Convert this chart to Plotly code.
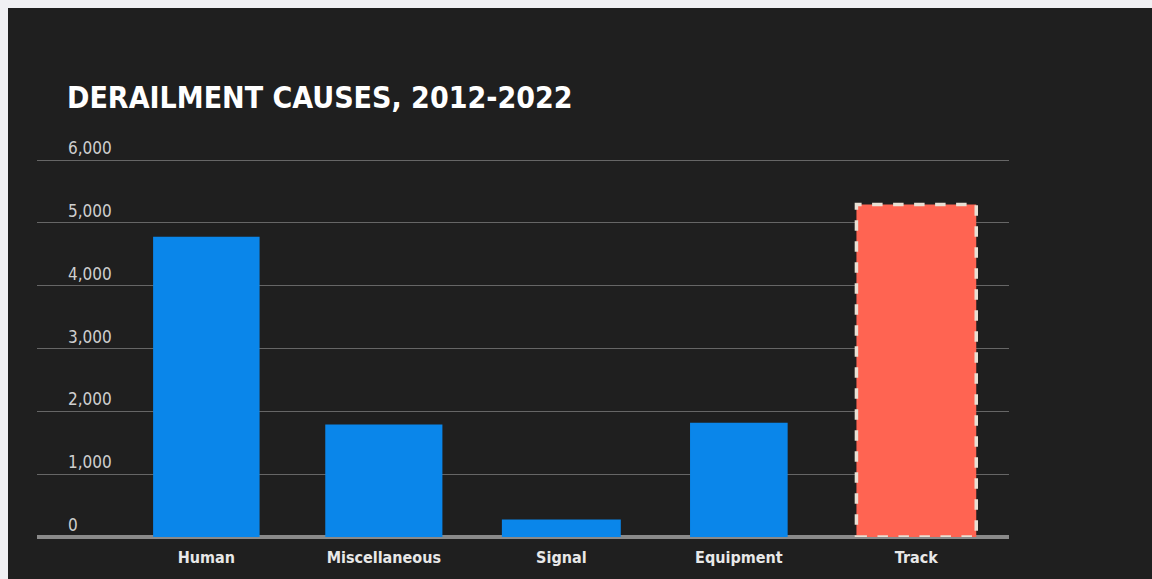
import plotly.graph_objects as go

categories = ["Human", "Miscellaneous", "Signal", "Equipment", "Track"]
derailments = [4780, 1790, 280, 1820, 5295]
highlight = ["Track"]
y_ticks = [0, 1000, 2000, 3000, 4000, 5000, 6000]
y_tick_labels = ["0", "1,000", "2,000", "3,000", "4,000", "5,000", "6,000"]
title_text = "DERAILMENT CAUSES, 2012-2022"

BG = "#1f1f1f"
BLUE = "#0a86ea"
RED = "#ff6452"
OUTLINE = "#e9e0d4"
FONT = "DejaVu Sans Condensed, Liberation Sans Narrow, Roboto Condensed, Roboto, sans-serif"
bar_widths = [0.60, 0.66, 0.67, 0.55, 0.675]

colors = [RED if c in highlight else BLUE for c in categories]

fig = go.Figure()
fig.add_trace(go.Bar(
    x=categories, y=derailments,
    marker=dict(color=colors, line=dict(width=0)),
    width=bar_widths,
    hoverinfo="x+y",
))

# dashed outline around highlighted bar(s)
for i, c in enumerate(categories):
    if c in highlight:
        w = bar_widths[i] / 2
        fig.add_shape(type="rect", xref="x", yref="y",
                      x0=i - w, x1=i + w, y0=0, y1=derailments[i],
                      line=dict(color=OUTLINE, width=3.5, dash="dash"),
                      fillcolor="rgba(0,0,0,0)", layer="above")

fig.update_layout(
    width=1144, height=571,
    margin=dict(l=29, r=143, t=128, b=42),
    paper_bgcolor=BG, plot_bgcolor=BG,
    showlegend=False,
    font=dict(family=FONT, color="#e6e6e6"),
    annotations=[dict(
        text="<b>" + title_text + "</b>", xref="paper", yref="paper",
        x=0.029, y=1.0 + (128 - 90) / 401.0, xanchor="left", yanchor="middle",
        showarrow=False,
        font=dict(family=FONT, size=30, color="#ffffff"),
    )],
)
fig.update_xaxes(
    range=[-0.954, 4.522], showgrid=False, zeroline=False, showline=False,
    ticks="", ticklabelstandoff=9,
    tickfont=dict(size=16, color="#e8e8e8", family=FONT, weight="bold"),
    fixedrange=True,
)
fig.update_yaxes(
    range=[0, 6385], tickvals=y_ticks, ticktext=y_tick_labels,
    ticklabelposition="inside top", ticklabelstandoff=28,
    showgrid=True, gridcolor="#666666", gridwidth=1,
    zeroline=True, zerolinecolor="#8a8a8a", zerolinewidth=4,
    showline=False, ticks="",
    tickfont=dict(size=17, color="#cfcfcf", family=FONT),
    fixedrange=True,
)

fig.write_html(
    "out.html",
    post_script="document.body.style.margin='8px 0 0 8px';"
                "document.body.style.background='#f0f0f3';",
)
